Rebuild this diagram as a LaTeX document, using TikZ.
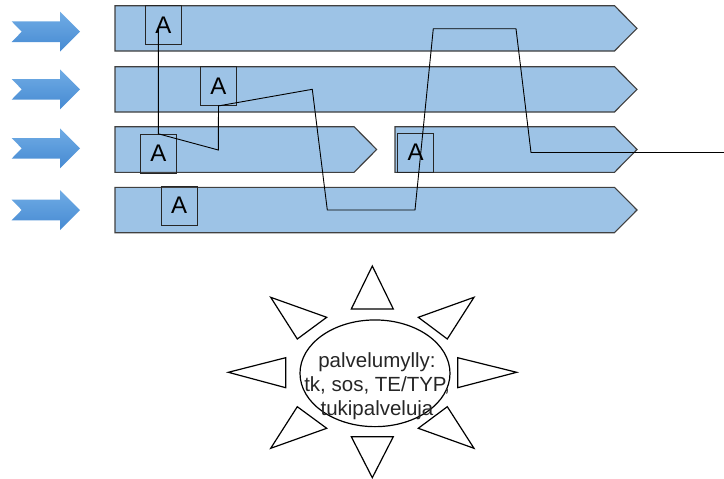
\documentclass[tikz,border=0pt]{standalone}
\usepackage{fontspec}
\setmainfont{Liberation Sans}
\usetikzlibrary{shapes.geometric}

\definecolor{barfill}{RGB}{157,195,230}
\definecolor{barline}{RGB}{64,64,64}
\definecolor{arrowtop}{RGB}{112,172,229}
\definecolor{arrowbot}{RGB}{70,138,210}

\tikzset{
  lanebar/.style={fill=barfill, draw=barline, line width=1.1pt, line join=miter},
  feedarrow/.style={top color=arrowtop, bottom color=arrowbot, draw=none},
  abox/.style={draw=black!85, line width=0.8pt, inner sep=0pt,
    minimum width=36pt, minimum height=39pt, font=\fontsize{24}{24}\selectfont},
  route/.style={draw=black, line width=0.9pt, line join=miter},
  ray/.style={draw=black, line width=1.2pt, line join=miter},
  mill/.style={draw=black, ellipse, line width=1.2pt, inner sep=0pt,
    minimum width=150pt, minimum height=106.7pt},
  milltext/.style={align=center, text=black!85,
    font=\fontsize{20.5}{23.8}\selectfont},
}

\begin{document}
\begin{tikzpicture}[x=1pt, y=-1pt]
\useasboundingbox (0,0) rectangle (724,479);

% incoming arrows on the left
\foreach \c in {31.7, 89.3, 148.3, 210} {
  \path[feedarrow] (11.7,\c-10.3) -- (60,\c-10.3) -- (60,\c-20) -- (80,\c)
    -- (60,\c+20) -- (60,\c+10.3) -- (11.7,\c+10.3) -- (21.7,\c) -- cycle;
}

% process lanes
\path[lanebar] (115,5.7) -- (614.5,5.7) -- (637,28.35) -- (614.5,51) -- (115,51) -- cycle;
\path[lanebar] (115,66.7) -- (614.5,66.7) -- (637,89.35) -- (614.5,112) -- (115,112) -- cycle;
\path[lanebar] (115,126.7) -- (354,126.7) -- (376.7,149.5) -- (354,172.3) -- (115,172.3) -- cycle;
\path[lanebar] (395,126.7) -- (614.5,126.7) -- (637,149.5) -- (614.5,172.3) -- (395,172.3) -- cycle;
\path[lanebar] (115,187.3) -- (614.5,187.3) -- (637,210) -- (614.5,232.7) -- (115,232.7) -- cycle;

% stations
\node[abox] (a1) at (163.3,25.3) {A};
\node[abox] (a2) at (218.5,86) {A};
\node[abox] (a3) at (158.3,153.7) {A};
\node[abox] (a4) at (179.2,205.7) {A};
\node[abox] (a5) at (415.7,152.7) {A};

% path of the customer through the stations
\coordinate (start) at (158.3,28);
\coordinate (b1) at (218.3,150);
\coordinate (b2) at (312.3,89.3);
\coordinate (b3) at (327.3,210);
\coordinate (b4) at (415,210);
\coordinate (b5) at (433.3,28.7);
\coordinate (b6) at (516,28.7);
\coordinate (b7) at (531,152.5);
\coordinate (exit) at (724,152.5);
\draw[route] (start) -- (a3.north) -- (b1) -- (a2.south) -- (b2) -- (b3)
  -- (b4) -- (b5) -- (b6) -- (b7) -- (exit);

% service mill: rays
\path[ray] (372.3,266) -- (393.3,309) -- (351.3,309) -- cycle;
\path[ray] (372.3,477.7) -- (393.3,436.7) -- (351.3,436.7) -- cycle;
\path[ray] (228.3,372.3) -- (285.7,357.7) -- (285.7,387.7) -- cycle;
\path[ray] (516.7,372.3) -- (457.7,357.7) -- (457.7,387.7) -- cycle;
\path[ray] (270.7,297.3) -- (326.7,317.3) -- (297.3,339) -- cycle;
\path[ray] (474,297.3) -- (418.3,317.3) -- (447.3,339) -- cycle;
\path[ray] (297.3,406.7) -- (326.7,428.3) -- (270.7,448.3) -- cycle;
\path[ray] (447.3,406.7) -- (418.3,428.3) -- (474,448.3) -- cycle;

% service mill: hub
\node[mill] (hub) at (375,373.3) {};
\node[milltext] (hubtext) at (377,386) {palvelumylly:\\tk, sos, TE/TYP,\\tukipalveluja};
\end{tikzpicture}
\end{document}
